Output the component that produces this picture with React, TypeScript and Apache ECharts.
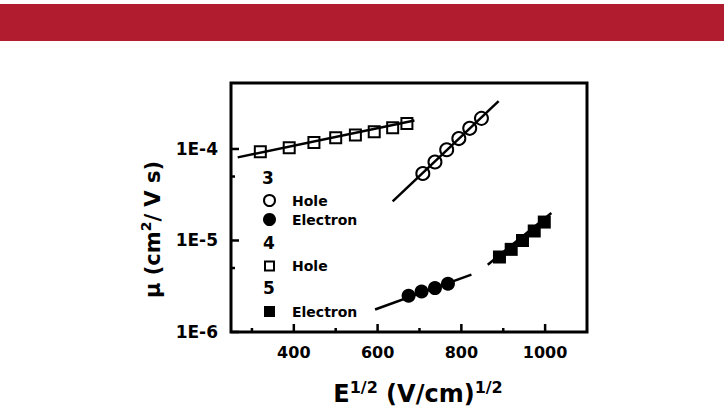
import React, { useEffect, useRef } from "react";
import * as echarts from "echarts";

// ---- data ----
const hole4X = [320, 389, 448, 500, 547, 592, 636, 670];
const hole4Y = [9.3e-5, 1.03e-4, 1.18e-4, 1.33e-4, 1.42e-4, 1.54e-4, 1.71e-4, 1.9e-4];

const hole3X = [708, 737, 765, 794, 820, 848];
const hole3Y = [5.4e-5, 7.2e-5, 9.8e-5, 1.3e-4, 1.68e-4, 2.16e-4];

const elec3X = [674, 705, 737, 768];
const elec3Y = [2.49e-6, 2.77e-6, 3.02e-6, 3.37e-6];

const elec5X = [891, 919, 946, 974, 998];
const elec5Y = [6.6e-6, 8.0e-6, 1.0e-5, 1.27e-5, 1.59e-5];

const fitHole4 = [[266, 8.1e-5], [688, 2.05e-4]];
const fitHole3 = [[636, 2.67e-5], [889, 3.33e-4]];
const fitElec3 = [[594, 1.76e-6], [824, 4.23e-6]];
const fitElec5 = [[863, 5.44e-6], [1015, 2.0e-5]];

const xMin = 250;
const xMax = 1100;
const yMin = 1e-6;
const yMax = 5.26e-4;

const xLabelValues = [400, 600, 800, 1000];
const xMinorValues = [300, 500, 700, 900];
const yMajorValues = [1e-6, 1e-5, 1e-4];
const yMinorValues = [5e-6, 5e-5];

const FONT = '"DejaVu Sans", sans-serif';

const zip = (xs: number[], ys: number[]) => xs.map((x, i) => [x, ys[i]]);

function tickSeries(data: number[][], dir: "x" | "y", len: number) {
  return {
    type: "custom",
    silent: true,
    z: 10,
    data,
    renderItem: (params: any, api: any) => {
      const p = api.coord([api.value(0), api.value(1)]);
      const shape =
        dir === "x"
          ? { x1: p[0], y1: p[1], x2: p[0], y2: p[1] - len }
          : { x1: p[0], y1: p[1], x2: p[0] + len, y2: p[1] };
      return { type: "line", shape, style: { stroke: "#000", lineWidth: 2.5 } };
    },
  };
}

function fitSeries(data: number[][]) {
  return {
    type: "line",
    data,
    showSymbol: false,
    silent: true,
    z: 2,
    lineStyle: { color: "#000", width: 2.5, opacity: 1 },
  };
}

export default function App() {
  const ref = useRef<HTMLDivElement>(null);

  useEffect(() => {
    document.body.style.margin = "0";
    const chart = echarts.init(ref.current!, undefined, { renderer: "svg" });

    const legendText = (x: number, y: number, text: string, size: number) => ({
      type: "text",
      x,
      y,
      style: {
        text,
        fill: "#000",
        font: `bold ${size}px ${FONT}`,
        textAlign: size > 15 ? "center" : "left",
        verticalAlign: "middle",
        textVerticalAlign: "middle",
      },
    });

    const openStyle = { color: "rgba(255,255,255,0)", borderColor: "#000", borderWidth: 2, opacity: 1 };
    const filledStyle = { color: "#000", opacity: 1 };

    const option: any = {
      animation: false,
      backgroundColor: "#fff",
      grid: {
        left: 231,
        top: 83,
        right: 139,
        bottom: 82,
        show: true,
        borderColor: "#000",
        borderWidth: 3,
        backgroundColor: "transparent",
      },
      xAxis: {
        type: "value",
        min: xMin,
        max: xMax,
        interval: 50,
        axisLine: { show: false },
        axisTick: { show: false },
        splitLine: { show: false },
        axisLabel: {
          margin: 12,
          color: "#000",
          fontFamily: FONT,
          fontWeight: "bold",
          fontSize: 16,
          formatter: (v: number) => (xLabelValues.includes(v) ? String(v) : ""),
        },
        name: "E{sup|1/2} (V/cm){sup|1/2}",
        nameLocation: "middle",
        nameGap: 47,
        nameTextStyle: {
          color: "#000",
          fontFamily: FONT,
          fontWeight: "bold",
          fontSize: 24,
          lineHeight: 30,
          padding: [0, 0, 0, 18],
          rich: {
            sup: {
              color: "#000",
              fontFamily: FONT,
              fontWeight: "bold",
              fontSize: 16,
              lineHeight: 16,
              verticalAlign: "top",
            },
          },
        },
      },
      yAxis: {
        type: "log",
        logBase: 10,
        min: yMin,
        max: yMax,
        axisLine: { show: false },
        axisTick: { show: false },
        splitLine: { show: false },
        axisLabel: {
          margin: 13,
          color: "#000",
          fontFamily: FONT,
          fontWeight: "bold",
          fontSize: 17,
          formatter: (v: number) => {
            const l = Math.log10(v);
            return Math.abs(l - Math.round(l)) < 1e-6 ? `1E${Math.round(l)}` : "";
          },
        },
        name: "μ (cm{sup|2}/ V s)",
        nameLocation: "middle",
        nameRotate: 90,
        nameGap: 64,
        nameTextStyle: {
          color: "#000",
          fontFamily: FONT,
          fontWeight: "bold",
          fontSize: 21,
          lineHeight: 28,
          padding: [0, 44, 0, 0],
          rich: {
            sup: {
              color: "#000",
              fontFamily: FONT,
              fontWeight: "bold",
              fontSize: 14,
              lineHeight: 14,
              verticalAlign: "top",
            },
          },
        },
      },
      graphic: [
        {
          type: "rect",
          shape: { x: 0, y: 4, width: 724, height: 37 },
          style: { fill: "#B21C2F" },
        },
        legendText(268, 178, "3", 17),
        {
          type: "circle",
          shape: { cx: 269.5, cy: 200.5, r: 5.5 },
          style: { fill: "#fff", stroke: "#000", lineWidth: 2 },
        },
        legendText(292, 201, "Hole", 14),
        {
          type: "circle",
          shape: { cx: 269.5, cy: 219.5, r: 6.5 },
          style: { fill: "#000" },
        },
        legendText(292, 220, "Electron", 14),
        legendText(269, 243, "4", 17),
        {
          type: "rect",
          shape: { x: 265, y: 261.5, width: 9, height: 9 },
          style: { fill: "#fff", stroke: "#000", lineWidth: 2 },
        },
        legendText(292, 266, "Hole", 14),
        legendText(269, 288, "5", 17),
        {
          type: "rect",
          shape: { x: 264, y: 306, width: 11, height: 11 },
          style: { fill: "#000" },
        },
        legendText(292, 312, "Electron", 14),
      ],
      series: [
        fitSeries(fitHole4),
        fitSeries(fitHole3),
        fitSeries(fitElec3),
        fitSeries(fitElec5),
        {
          name: "4 Hole",
          type: "scatter",
          data: zip(hole4X, hole4Y),
          symbol: "rect",
          symbolSize: 11,
          z: 3,
          itemStyle: openStyle,
        },
        {
          name: "3 Hole",
          type: "scatter",
          data: zip(hole3X, hole3Y),
          symbol: "circle",
          symbolSize: 13,
          z: 3,
          itemStyle: openStyle,
        },
        {
          name: "3 Electron",
          type: "scatter",
          data: zip(elec3X, elec3Y),
          symbol: "circle",
          symbolSize: 14,
          z: 3,
          itemStyle: filledStyle,
        },
        {
          name: "5 Electron",
          type: "scatter",
          data: zip(elec5X, elec5Y),
          symbol: "rect",
          symbolSize: 13,
          z: 3,
          itemStyle: filledStyle,
        },
        tickSeries(xLabelValues.map((v) => [v, yMin]), "x", 8),
        tickSeries(xMinorValues.map((v) => [v, yMin]), "x", 4),
        tickSeries(yMajorValues.map((v) => [xMin, v]), "y", 8),
        tickSeries(yMinorValues.map((v) => [xMin, v]), "y", 4),
      ],
    };

    chart.setOption(option);
    return () => chart.dispose();
  }, []);

  return (
    <div
      ref={ref}
      style={{ position: "absolute", left: 0, top: 0, width: 726, height: 414 }}
    />
  );
}
